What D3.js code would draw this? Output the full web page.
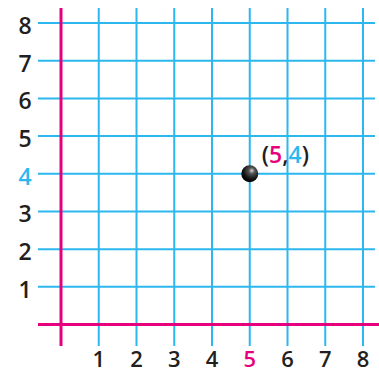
<!DOCTYPE html>
<html><head><meta charset="utf-8">
<script src="https://cdn.jsdelivr.net/npm/d3@7"></script>
<style>html,body{margin:0;padding:0;background:#fff;}svg{display:block;}</style>
</head><body>
<svg id="c" width="379" height="373"></svg>
<script>
const xTicks = [1,2,3,4,5,6,7,8];
const yTicks = [1,2,3,4,5,6,7,8];
const pointX = [5];
const pointY = [4];

const MAG = "#e6007e", BLUE = "#2cb8ee", INK = "#231f20";
const svg = d3.select("#c");
const x = d3.scaleLinear().domain([0,8]).range([61,363]);
const y = d3.scaleLinear().domain([0,8]).range([324.5,23]);

const defs = svg.append("defs");
const g = defs.append("radialGradient").attr("id","ball").attr("cx","0.62").attr("cy","0.32").attr("r","0.7");
g.append("stop").attr("offset","0").attr("stop-color","#d8d8d8");
g.append("stop").attr("offset","0.25").attr("stop-color","#555");
g.append("stop").attr("offset","0.7").attr("stop-color","#111");
g.append("stop").attr("offset","1").attr("stop-color","#000");

svg.append("g").selectAll("line").data(xTicks).join("line")
  .attr("x1",d=>x(d)).attr("x2",d=>x(d)).attr("y1",8).attr("y2",346)
  .attr("stroke",BLUE).attr("stroke-width",2);
svg.append("g").selectAll("line").data(yTicks).join("line")
  .attr("x1",38).attr("x2",375).attr("y1",d=>y(d)).attr("y2",d=>y(d))
  .attr("stroke",BLUE).attr("stroke-width",2);
svg.append("line").attr("x1",38).attr("x2",379).attr("y1",y(0)).attr("y2",y(0)).attr("stroke",MAG).attr("stroke-width",3);
svg.append("line").attr("x1",x(0)).attr("x2",x(0)).attr("y1",8).attr("y2",346).attr("stroke",MAG).attr("stroke-width",3);

const font = "'Open Sans', Lato, sans-serif";
svg.append("g").selectAll("text").data(yTicks).join("text")
  .attr("x",25).attr("y",d=>y(d)+11).attr("text-anchor","middle")
  .attr("font-family",font).attr("font-size",23).attr("font-weight",600)
  .attr("fill",d=>pointY.includes(d)?BLUE:INK).text(d=>d);
svg.append("g").selectAll("text").data(xTicks).join("text")
  .attr("x",d=>x(d)).attr("y",367).attr("text-anchor","middle")
  .attr("font-family",font).attr("font-size",22).attr("font-weight",600)
  .attr("fill",d=>pointX.includes(d)?MAG:INK).text(d=>d);

svg.append("g").selectAll("circle").data(pointX).join("circle")
  .attr("cx",(d)=>x(d)).attr("cy",(d,i)=>y(pointY[i])).attr("r",8.5)
  .attr("fill","url(#ball)");
const t = svg.append("text").attr("x",x(pointX[0])+12).attr("y",y(pointY[0])-11)
  .attr("font-family",font).attr("font-size",23).attr("font-weight",600).attr("fill",INK);
t.append("tspan").text("(");
t.append("tspan").attr("fill",MAG).text(pointX[0]);
t.append("tspan").text(",");
t.append("tspan").attr("fill",BLUE).text(pointY[0]);
t.append("tspan").text(")");
</script>
</body></html>
